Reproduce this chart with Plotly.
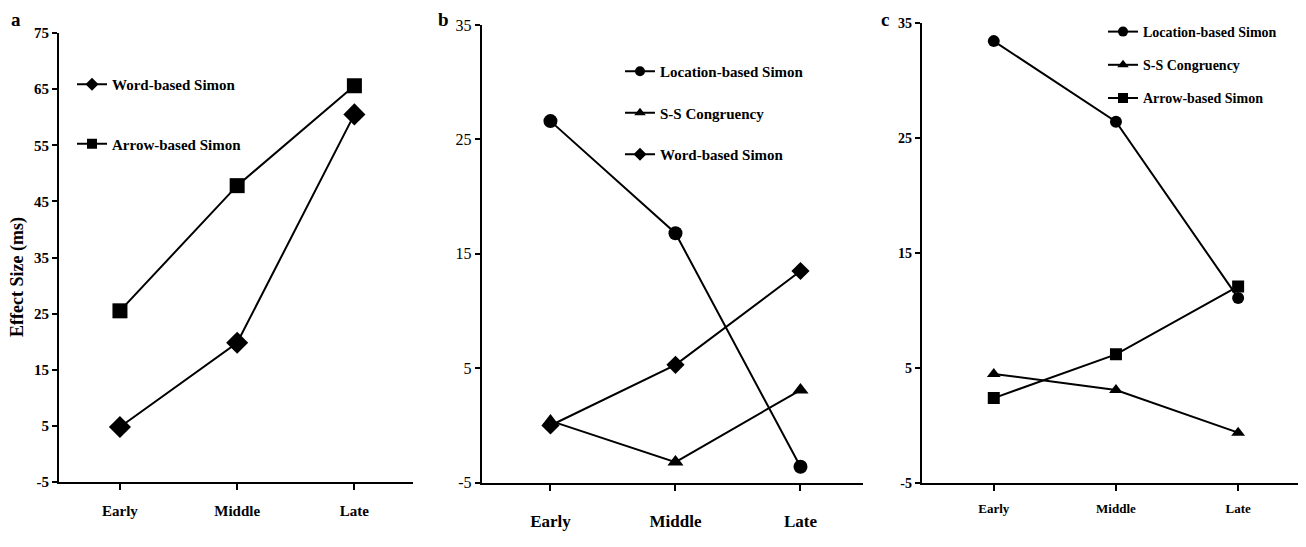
import plotly.graph_objects as go

stages = ["Early", "Middle", "Late"]

# Panel a
a_word = [4.8, 19.8, 60.5]
a_arrow = [25.5, 47.8, 65.6]
# Panel b
b_location = [26.6, 16.8, -3.6]
b_ss = [0.4, -3.2, 3.1]
b_word = [0.0, 5.3, 13.5]
# Panel c
c_location = [33.4, 26.4, 11.1]
c_ss = [4.5, 3.1, -0.6]
c_arrow = [2.4, 6.2, 12.1]

a_ticks = [-5, 5, 15, 25, 35, 45, 55, 65, 75]
a_ticktext = ["-5", "5", "15", "25", "35", "45", "55", "65", "75"]
bc_ticks = [-5, 5, 15, 25, 35]
bc_ticktext = ["-5", "5", "15", "25", "35"]

W, H = 1306, 547
OFF = 8  # page body margin
SERIF = "Liberation Serif"

fig = go.Figure()

def add(xa, ya, y, sym, size, name, legend, group):
    fig.add_trace(go.Scatter(x=stages, y=y, mode="lines+markers", xaxis=xa, yaxis=ya,
                             line=dict(color="black", width=2),
                             marker=dict(symbol=sym, size=size, color="black"),
                             showlegend=False, name=name))
    fig.add_trace(go.Scatter(x=[None], y=[None], mode="lines+markers", xaxis=xa, yaxis=ya,
                             line=dict(color="black", width=2),
                             marker=dict(symbol=sym, size=10, color="black"),
                             name=name, legend=legend, legendgroup=group, showlegend=True))

add("x", "y", a_word, "diamond", 17, "Word-based Simon", "legend", "a1")
add("x", "y", a_arrow, "square", 15, "Arrow-based Simon", "legend", "a2")
add("x2", "y2", b_location, "circle", 14, "Location-based Simon", "legend2", "b1")
add("x2", "y2", b_ss, "triangle-up", 14, "S-S Congruency", "legend2", "b2")
add("x2", "y2", b_word, "diamond", 14, "Word-based Simon", "legend2", "b3")
add("x3", "y3", c_location, "circle", 12, "Location-based Simon", "legend3", "c1")
add("x3", "y3", c_ss, "triangle-up", 12, "S-S Congruency", "legend3", "c2")
add("x3", "y3", c_arrow, "square", 12, "Arrow-based Simon", "legend3", "c3")

def px_x(p):
    return (p - OFF) / W

def px_y(p):
    return 1 - (p - OFF) / H

def xaxis(dom, rng, fsize, standoff, anchor):
    return dict(domain=dom, range=rng, type="category", showline=True, linecolor="black",
                linewidth=2, ticks="outside", ticklen=6, tickwidth=1.5, tickcolor="black",
                showgrid=False, zeroline=False, anchor=anchor, ticklabelstandoff=standoff,
                automargin=False,
                tickfont=dict(family=SERIF, size=fsize, color="black", weight="bold"))

def yaxis(dom, rng, ticks, ticktext, fsize, bold, anchor):
    return dict(domain=dom, range=rng, tickvals=ticks, ticktext=ticktext, showline=True,
                linecolor="black", linewidth=2, ticks="outside", ticklen=5, tickwidth=1.5,
                tickcolor="black", showgrid=False, zeroline=False, anchor=anchor,
                automargin=False,
                tickfont=dict(family=SERIF, size=fsize, color="black",
                              weight="bold" if bold else "normal"))

fig.update_layout(
    width=W, height=H, margin=dict(l=0, r=0, t=0, b=0, autoexpand=False),
    paper_bgcolor="white", plot_bgcolor="white",
    xaxis=xaxis([px_x(59), px_x(413)], [-0.52, 2.5], 15, 8, "y"),
    yaxis=yaxis([px_y(482), px_y(33)], [-5, 75], a_ticks, a_ticktext, 15, True, "x"),
    xaxis2=xaxis([px_x(481.7), px_x(863)], [-0.55, 2.5], 17, 16, "y2"),
    yaxis2=yaxis([px_y(482.7), px_y(25)], [-5, 35], bc_ticks, bc_ticktext, 16, False, "x2"),
    xaxis3=xaxis([px_x(921.7), px_x(1298)], [-0.59, 2.49], 13, 6, "y3"),
    yaxis3=yaxis([px_y(483.3), px_y(22.7)], [-5, 35], bc_ticks, bc_ticktext, 14, True, "x3"),
    legend=dict(x=px_x(72), y=px_y(68), xanchor="left", yanchor="top", bgcolor="rgba(0,0,0,0)",
                font=dict(family=SERIF, size=15, color="black", weight="bold"),
                tracegroupgap=37, itemwidth=30),
    legend2=dict(x=px_x(620), y=px_y(55), xanchor="left", yanchor="top", bgcolor="rgba(0,0,0,0)",
                 font=dict(family=SERIF, size=15, color="black", weight="bold"),
                 tracegroupgap=19, itemwidth=30),
    legend3=dict(x=px_x(1103), y=px_y(16), xanchor="left", yanchor="top", bgcolor="rgba(0,0,0,0)",
                 font=dict(family=SERIF, size=14, color="black", weight="bold"),
                 tracegroupgap=12, itemwidth=30),
)

fig.add_annotation(text="<b>Effect Size (ms)</b>", x=px_x(17), y=px_y(277), xref="paper", yref="paper",
                   xanchor="center", yanchor="middle",
                   textangle=-90, showarrow=False, font=dict(family=SERIF, size=18, color="black"))
for lbl, xp in [("a", 16), ("b", 443), ("c", 885)]:
    fig.add_annotation(text="<b>%s</b>" % lbl, x=px_x(xp), y=1, xref="paper", yref="paper",
                       xanchor="center", yanchor="top", borderpad=0,
                       showarrow=False, font=dict(family=SERIF, size=19, color="black"))

fig.write_html("out.html")
